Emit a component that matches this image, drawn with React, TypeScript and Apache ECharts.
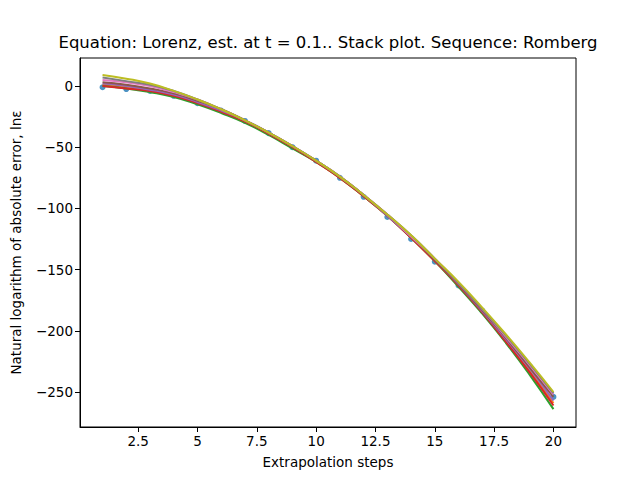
import { useEffect, useRef } from 'react';
import * as echarts from 'echarts';

const steps = Array.from({ length: 20 }, (_, i) => i + 1);
const xTicks = [2.5, 5, 7.5, 10, 12.5, 15, 17.5, 20];
const yTicks = [0, -50, -100, -150, -200, -250];

const dots = [-1, -2.5, -4, -8, -14, -20, -28.5, -38.5, -50, -61, -75, -90.5, -107, -125, -143.5, -163, -183.5, -206, -229, -254];

const orange = [1, -1, -4, -8, -14, -21, -29, -39, -50, -62, -75, -90, -106, -124, -143, -163, -185, -208, -233, -259];
const green = [0, -2, -5, -9, -15, -22, -30, -40, -51, -62, -75, -90, -106, -124, -143, -164, -186, -210, -236, -264];
const red = [0, -2, -4, -8, -14, -21, -29, -39, -50, -62, -75, -90, -106, -124, -143, -163, -185, -209, -234, -261];
const purple = [2, 0, -3, -7, -13, -20, -28, -38, -49, -61, -74, -89, -106, -123, -142, -162, -184, -207, -231, -257];
const brown = [3, 1, -2, -6, -12, -19, -28, -38, -49, -61, -74, -89, -105, -123, -142, -162, -183, -206, -230, -254];
const pink = [5, 3, 0, -5, -11, -19, -28, -38, -49, -61, -74, -89, -105, -123, -141, -161, -182, -205, -228, -252];
const gray = [7, 4, 1, -4, -11, -19, -28, -38, -49, -61, -74, -89, -105, -122, -141, -161, -182, -204, -227, -251];
const olive = [9, 6, 2, -4, -11, -19, -28, -38, -49, -61, -74, -89, -105, -122, -141, -160, -181, -203, -226, -250];

const lines: [string, number[]][] = [
  ['#ff7f0e', orange],
  ['#2ca02c', green],
  ['#d62728', red],
  ['#9467bd', purple],
  ['#8c564b', brown],
  ['#e377c2', pink],
  ['#7f7f7f', gray],
  ['#bcbd22', olive],
];

export default function App() {
  const ref = useRef<HTMLDivElement>(null);

  useEffect(() => {
    if (!ref.current) return;
    const chart = echarts.init(ref.current, undefined, { renderer: 'svg' });
    const font = 'DejaVu Sans';
    const axisCommon = {
      axisLine: { onZero: false, lineStyle: { color: '#000' } },
      axisTick: { show: true, length: 5, lineStyle: { color: '#000' } },
      axisLabel: { color: '#000', fontSize: 13.5, fontFamily: font, margin: 7 },
      splitLine: { show: false },
      nameLocation: 'middle' as const,
      nameTextStyle: { color: '#000', fontSize: 13.5, fontFamily: font },
    };
    chart.setOption({
      animation: false,
      title: {
        text: 'Equation: Lorenz, est. at t = 0.1.. Stack plot. Sequence: Romberg',
        left: 328,
        top: 34,
        textAlign: 'center',
        textStyle: { fontSize: 16.5, fontWeight: 'normal', color: '#000', fontFamily: font },
        padding: 0,
      },
      grid: { left: 80, top: 58, right: 64, bottom: 53 },
      xAxis: {
        ...axisCommon,
        type: 'value',
        min: 0.05,
        max: 20.95,
        name: 'Extrapolation steps',
        nameGap: 28,
        axisTick: { ...axisCommon.axisTick, customValues: xTicks },
        axisLabel: {
          ...axisCommon.axisLabel,
          customValues: xTicks,
          formatter: (v: number) => String(v).replace('-', '\u2212'),
        },
      },
      yAxis: {
        ...axisCommon,
        type: 'value',
        min: -278.6,
        max: 22.9,
        name: 'Natural logarithm of absolute error, lnε',
        nameGap: 57,
        axisTick: { ...axisCommon.axisTick, customValues: yTicks },
        axisLabel: {
          ...axisCommon.axisLabel,
          customValues: yTicks,
          formatter: (v: number) => String(v).replace('-', '\u2212'),
        },
      },
      series: [
        ...lines.map(([color, vals]) => ({
          type: 'line',
          smooth: true,
          showSymbol: false,
          lineStyle: { color, width: 2 },
          data: steps.map((s, i) => [s, vals[i]]),
        })),
        {
          type: 'scatter',
          symbolSize: 6,
          itemStyle: { color: '#1f77b4' },
          data: steps.map((s, i) => [s, dots[i]]),
        },
      ],
      graphic: [
        { type: 'rect', shape: { x: 80, y: 58, width: 496, height: 369 }, style: { fill: 'none', stroke: '#000', lineWidth: 1 }, silent: true },
      ],
    });
    return () => chart.dispose();
  }, []);

  return <div ref={ref} style={{ width: 640, height: 480, margin: -8 }} />;
}
